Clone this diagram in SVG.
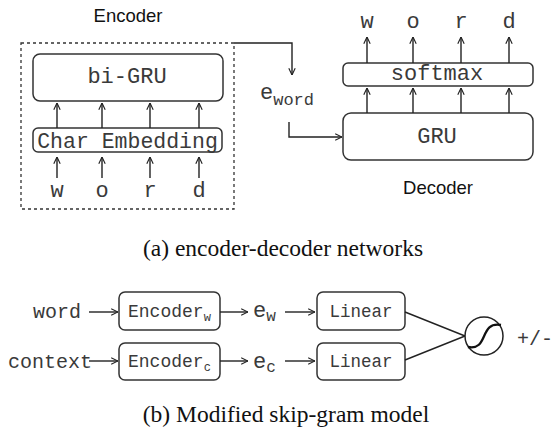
<svg xmlns="http://www.w3.org/2000/svg" width="558" height="433" viewBox="0 0 558 433">
<defs>
<marker id="arr" viewBox="0 0 10 10" refX="9.5" refY="5" markerWidth="8" markerHeight="8" markerUnits="userSpaceOnUse" orient="auto">
<path d="M1,1 L9.5,5 L1,9" fill="none" stroke="#222" stroke-width="1.4"/>
</marker>
</defs>
<style>
.box{fill:#fff;stroke:#333;stroke-width:1.5}
.ln{fill:none;stroke:#222;stroke-width:1.4}
.ar{fill:none;stroke:#222;stroke-width:1.4;marker-end:url(#arr)}
.mono{font-family:"Liberation Mono","Courier New",monospace;fill:#3a3a3a}
.sans{font-family:"Liberation Sans",Arial,sans-serif;fill:#111}
.serif{font-family:"Liberation Serif","Times New Roman",serif;fill:#111}
</style>
<text class="sans" x="128" y="22" font-size="18.5" text-anchor="middle">Encoder</text>
<text class="sans" x="438" y="194" font-size="18.5" text-anchor="middle">Decoder</text>
<g id="encoder">
<rect x="21" y="43" width="213" height="166" fill="none" stroke="#333" stroke-width="1.3" stroke-dasharray="3,3"/>
</g>
<g id="bigru">
<rect class="box" x="33" y="54" width="190" height="47" rx="7"/>
<text class="mono" x="127" y="83" font-size="22" text-anchor="middle">bi-GRU</text>
</g>
<g id="charemb">
<rect class="box" x="33" y="128" width="189" height="24" rx="5"/>
<text class="mono" x="127.5" y="148" font-size="21.5" text-anchor="middle">Char Embedding</text>
</g>
<g id="enc-in" class="mono" font-size="22" text-anchor="middle">
<text x="57" y="197">w</text><text x="102" y="197">o</text><text x="150" y="197">r</text><text x="199" y="197">d</text>
</g>
<g id="softmax">
<rect class="box" x="343" y="63" width="190" height="23" rx="5"/>
<text class="mono" x="437" y="80" font-size="22" text-anchor="middle">softmax</text>
</g>
<g id="gru">
<rect class="box" x="343" y="113" width="190" height="47" rx="8"/>
<text class="mono" x="437" y="143" font-size="22" text-anchor="middle">GRU</text>
</g>
<g id="dec-out" class="mono" font-size="22" text-anchor="middle">
<text x="367" y="28">w</text><text x="413" y="28">o</text><text x="461" y="28">r</text><text x="509" y="28">d</text>
</g>
<g id="eword">
<text class="mono" x="260" y="99" font-size="22">e<tspan font-size="17" dy="6">word</tspan></text>
</g>
<g id="word">
<text class="mono" x="33" y="318" font-size="20">word</text>
</g>
<g id="context">
<text class="mono" x="8" y="368" font-size="20">context</text>
</g>
<g id="encw">
<rect class="box" x="119" y="292" width="101" height="38" rx="6"/>
<text class="mono" x="128" y="317" font-size="18">Encoder<tspan font-size="12" dy="4">w</tspan></text>
</g>
<g id="encc">
<rect class="box" x="119" y="343" width="101" height="37" rx="6"/>
<text class="mono" x="128" y="367" font-size="18">Encoder<tspan font-size="12" dy="4">c</tspan></text>
</g>
<g id="ew">
<text class="mono" x="253" y="317" font-size="22">e<tspan font-size="16" dy="4">w</tspan></text>
</g>
<g id="ec">
<text class="mono" x="253" y="368" font-size="22">e<tspan font-size="16" dy="4">c</tspan></text>
</g>
<g id="linw">
<rect class="box" x="317" y="292" width="88" height="38" rx="6"/>
<text class="mono" x="361" y="317" font-size="17.5" text-anchor="middle">Linear</text>
</g>
<g id="linc">
<rect class="box" x="317" y="343" width="88" height="37" rx="6"/>
<text class="mono" x="361" y="367" font-size="17.5" text-anchor="middle">Linear</text>
</g>
<g id="sigmoid">
<circle cx="484" cy="336" r="19" fill="#fff" stroke="#222" stroke-width="1.5"/>
<path d="M468,347 C489,351 479,321 501,325" fill="none" stroke="#111" stroke-width="2.3"/>
</g>
<g id="pm">
<text class="mono" x="517" y="345" font-size="20">+/-</text>
</g>
<g id="connectors">
<line class="ar" x1="57" y1="178" x2="57" y2="157"/>
<line class="ar" x1="102" y1="178" x2="102" y2="157"/>
<line class="ar" x1="150" y1="178" x2="150" y2="157"/>
<line class="ar" x1="199" y1="178" x2="199" y2="157"/>
<line class="ar" x1="57" y1="128" x2="57" y2="103"/>
<line class="ar" x1="102" y1="128" x2="102" y2="103"/>
<line class="ar" x1="150" y1="128" x2="150" y2="103"/>
<line class="ar" x1="199" y1="128" x2="199" y2="103"/>
<line class="ar" x1="367" y1="113" x2="367" y2="88"/>
<line class="ar" x1="413" y1="113" x2="413" y2="88"/>
<line class="ar" x1="461" y1="113" x2="461" y2="88"/>
<line class="ar" x1="509" y1="113" x2="509" y2="88"/>
<line class="ar" x1="367" y1="63" x2="367" y2="37"/>
<line class="ar" x1="413" y1="63" x2="413" y2="37"/>
<line class="ar" x1="461" y1="63" x2="461" y2="37"/>
<line class="ar" x1="509" y1="63" x2="509" y2="37"/>
<polyline class="ar" points="234,43 292,43 292,75"/>
<polyline class="ar" points="289,122 289,137 342,137"/>
<line class="ar" x1="89" y1="312" x2="118" y2="312"/>
<line class="ar" x1="89" y1="361" x2="118" y2="361"/>
<line class="ar" x1="220" y1="312" x2="248" y2="312"/>
<line class="ar" x1="220" y1="361" x2="248" y2="361"/>
<line class="ar" x1="285" y1="312" x2="315" y2="312"/>
<line class="ar" x1="285" y1="361" x2="315" y2="361"/>
<line class="ln" x1="405" y1="312" x2="465" y2="336"/>
<line class="ln" x1="405" y1="360" x2="465" y2="336"/>
</g>
<text class="serif" x="283" y="256" font-size="23.5" text-anchor="middle">(a) encoder-decoder networks</text>
<text class="serif" x="286" y="422" font-size="23.5" text-anchor="middle">(b) Modified skip-gram model</text>
</svg>
